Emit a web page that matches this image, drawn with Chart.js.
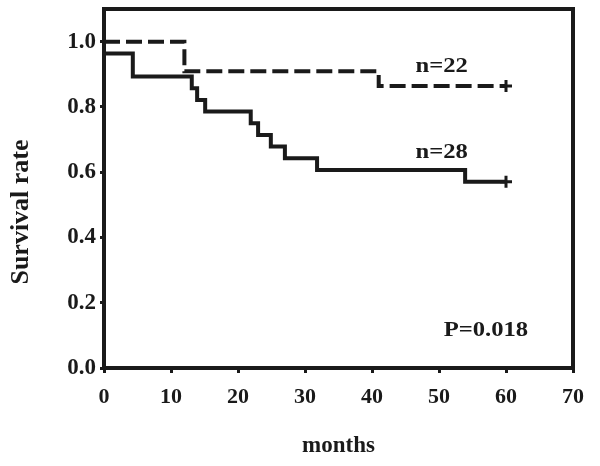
<!DOCTYPE html>
<html>
<head>
<meta charset="utf-8">
<script src="https://cdn.jsdelivr.net/npm/chart.js@4"></script>
<style>
  html, body { margin: 0; padding: 0; background: #fff; }
  #wrap { width: 600px; height: 466px; }
</style>
</head>
<body>
<div id="wrap"><canvas id="km"></canvas></div>
<script>
// Kaplan-Meier steps: month of each event, survival after it
const monthsA = [0, 12, 41, 60];
const survivalA = [1.0, 0.909, 0.864, 0.864];
const monthsB = [0, 4.3, 13.1, 13.9, 15.1, 21.9, 23.0, 24.9, 27.0, 31.8, 53.9, 60];
const survivalB = [0.964, 0.893, 0.857, 0.821, 0.786, 0.750, 0.714, 0.679, 0.643, 0.607, 0.571, 0.571];
const labelA = "n=22";
const labelB = "n=28";
const pValue = "P=0.018";
const xTicks = [0, 10, 20, 30, 40, 50, 60, 70];
const yTicks = [0, 0.2, 0.4, 0.6, 0.8, 1.0];

const serif = "'Liberation Serif', 'DejaVu Serif', serif";
const ink = '#1a1a1a';

function toPoints(xs, ys) {
    return xs.map((x, i) => ({x: x, y: ys[i]}));
}
function censorRadius(xs) {
    return xs.map((x, i) => i === xs.length - 1 ? 6 : 0);
}

const notes = [
    {text: labelA, x: 50.4, y: 0.925},
    {text: labelB, x: 50.4, y: 0.66},
    {text: pValue, x: 57, y: 0.116},
];

const frame = {
    id: 'frame',
    afterDraw(chart) {
        const {ctx, chartArea: a} = chart;
        ctx.save();
        ctx.strokeStyle = ink;
        ctx.lineWidth = 4;
        ctx.strokeRect(a.left, a.top, a.right - a.left, a.bottom - a.top);
        ctx.fillStyle = ink;
        ctx.font = "bold 22px " + serif;
        ctx.textAlign = 'center';
        ctx.textBaseline = 'middle';
        notes.forEach(n => {
            ctx.save();
            ctx.translate(chart.scales.x.getPixelForValue(n.x), chart.scales.y.getPixelForValue(n.y));
            ctx.scale(1.12, 1);
            ctx.fillText(n.text, 0, 0);
            ctx.restore();
        });
        // y axis title, sits a bit below the plot centre in the original
        ctx.save();
        ctx.font = "bold 26px " + serif;
        ctx.translate(21, 212);
        ctx.rotate(-Math.PI / 2);
        ctx.fillText('Survival rate', 0, 0);
        ctx.restore();
        ctx.restore();
    }
};

const ctx = document.getElementById('km').getContext('2d');
const config = {
    type: 'line',
    data: {
        datasets: [{
            data: toPoints(monthsA, survivalA),
            stepped: 'before',
            borderColor: ink,
            borderWidth: 4,
            borderDash: [16, 6],
            fill: false,
            pointStyle: 'cross',
            pointRadius: censorRadius(monthsA),
            pointBorderWidth: 3,
            pointBorderColor: ink,
        }, {
            data: toPoints(monthsB, survivalB),
            stepped: 'before',
            borderColor: ink,
            borderWidth: 4,
            fill: false,
            pointStyle: 'cross',
            pointRadius: censorRadius(monthsB),
            pointBorderWidth: 3,
            pointBorderColor: ink,
        }],
    },
    plugins: [frame],
    options: {
        responsive: true,
        maintainAspectRatio: false,
        animation: false,
        layout: {padding: {top: 8, right: 27, left: 0, bottom: 0}},
        plugins: {
            legend: {display: false},
            tooltip: {enabled: false},
        },
        scales: {
            x: {
                type: 'linear',
                min: 0,
                max: 70,
                afterBuildTicks: s => { s.ticks = xTicks.map(v => ({value: v})); },
                afterFit: s => { s.height = 98; s.paddingLeft = 0; s.paddingRight = 0; },
                grid: {drawOnChartArea: false, tickLength: 5, tickWidth: 3, tickColor: ink},
                border: {display: false},
                ticks: {
                    color: ink,
                    padding: 11,
                    maxRotation: 0,
                    font: {family: serif, size: 22, weight: 'bold'},
                },
                title: {
                    display: true,
                    text: 'months',
                    color: ink,
                    padding: {top: 0, bottom: 6},
                    font: {family: serif, size: 23, weight: 'bold'},
                },
            },
            y: {
                min: 0,
                max: 1.1,
                afterBuildTicks: s => { s.ticks = yTicks.map(v => ({value: v})); },
                afterFit: s => { s.width = 104; s.paddingTop = 0; s.paddingBottom = 0; },
                grid: {drawOnChartArea: false, tickLength: 4, tickWidth: 3, tickColor: ink},
                border: {display: false},
                ticks: {
                    color: ink,
                    padding: 4,
                    callback: v => v.toFixed(1),
                    font: {family: serif, size: 23, weight: 'bold'},
                },
            },
        },
    },
};

const myChart = new Chart(ctx, config);
</script>
</body>
</html>
